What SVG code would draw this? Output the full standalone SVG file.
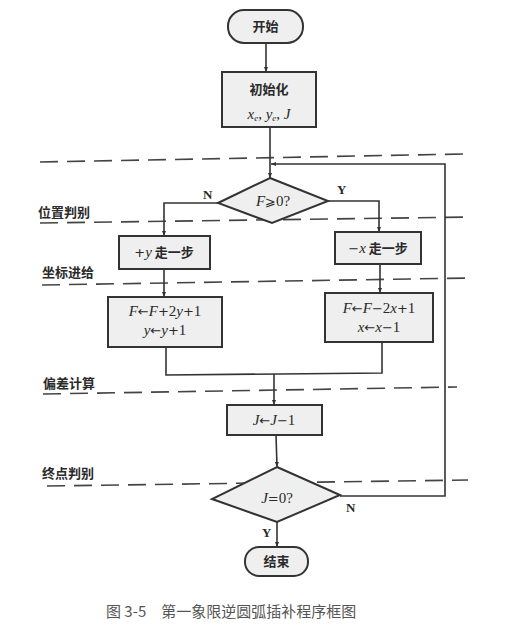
<svg xmlns="http://www.w3.org/2000/svg" width="512" height="632" viewBox="0 0 512 632">
<defs>
<style>
.box{fill:#efefef;stroke:#333;stroke-width:2}
.ln{fill:none;stroke:#333;stroke-width:1.6}
.dash{fill:none;stroke:#444;stroke-width:1.6;stroke-dasharray:18 9}
.cj{font-family:"Noto Sans CJK SC","Noto Sans",sans-serif;font-size:13px;font-weight:700;fill:#2a2a2a}
.mt{font-family:"Liberation Serif",serif;font-size:15px;font-style:italic;fill:#2a2a2a}
.op{font-family:"DejaVu Sans",sans-serif;font-style:normal;font-size:13px}
.yn{font-family:"Liberation Serif",serif;font-size:13px;font-weight:700;fill:#2a2a2a}
.cap{font-family:"Noto Sans CJK SC",sans-serif;font-size:15px;fill:#555}
</style>
<marker id="ar" viewBox="0 0 10 10" refX="10" refY="5" markerWidth="8" markerHeight="5" orient="auto" markerUnits="userSpaceOnUse">
<path d="M0,1 L10,5 L0,9 Z" fill="#333"/>
</marker>
</defs>
<rect width="512" height="632" fill="#fff"/>

<g id="phases">
<path class="dash" d="M40,162 L465,154"/>
<path class="dash" d="M40,223 L470,217"/>
<path class="dash" d="M42,285 L470,278"/>
<path class="dash" d="M43,394 L457,387"/>
<path class="dash" d="M47,486 L468,480"/>
<text class="cj" x="38" y="217">位置判别</text>
<text class="cj" x="42" y="277">坐标进给</text>
<text class="cj" x="43" y="388">偏差计算</text>
<text class="cj" x="42" y="478">终点判别</text>
</g>

<g id="connectors">
<path class="ln" d="M266,43 L266,72" marker-end="url(#ar)"/>
<path class="ln" d="M270,127 L270,178" marker-end="url(#ar)"/>
<path class="ln" d="M340,496 L445,496 L445,164 L271,164" marker-end="url(#ar)"/>
<path class="ln" d="M218,203 L164,203 L164,236" marker-end="url(#ar)"/>
<path class="ln" d="M328,201 L379,201 L379,232" marker-end="url(#ar)"/>
<path class="ln" d="M164,269 L164,297" marker-end="url(#ar)"/>
<path class="ln" d="M380,264 L380,293" marker-end="url(#ar)"/>
<path class="ln" d="M166,347 L166,375 L382,373 L382,342"/>
<path class="ln" d="M274,374 L274,405" marker-end="url(#ar)"/>
<path class="ln" d="M276,435 L277,467" marker-end="url(#ar)"/>
<path class="ln" d="M277,522 L277,547" marker-end="url(#ar)"/>
<text class="yn" x="203" y="199">N</text>
<text class="yn" x="337" y="194">Y</text>
<text class="yn" x="346" y="512">N</text>
<text class="yn" x="262" y="537">Y</text>
</g>

<g id="start">
<rect class="box" x="228" y="10" width="75" height="33" rx="16"/>
<text class="cj" x="265.500" y="31" text-anchor="middle">开始</text>
</g>

<g id="init">
<rect class="box" x="222" y="72" width="94" height="55"/>
<text class="cj" x="269" y="94" text-anchor="middle">初始化</text>
<text class="mt" x="269" y="119" text-anchor="middle" font-size="13">x<tspan font-size="9" dy="2">e</tspan><tspan dy="-2" font-style="normal">, </tspan>y<tspan font-size="9" dy="2">e</tspan><tspan dy="-2" font-style="normal">, </tspan>J</text>
</g>

<g id="d1">
<polygon class="box" points="270,178 328,201 272,223 218,203"/>
<text class="mt" x="273" y="206" text-anchor="middle">F<tspan class="op">⩾</tspan><tspan font-style="normal">0?</tspan></text>
</g>

<g id="stepY">
<rect class="box" x="119" y="236" width="91" height="33"/>
<text class="mt" x="164" y="257" text-anchor="middle"><tspan class="op">+</tspan>y<tspan class="cj" font-style="normal"> 走一步</tspan></text>
</g>

<g id="stepX">
<rect class="box" x="335" y="232" width="86" height="32"/>
<text class="mt" x="378" y="253" text-anchor="middle"><tspan class="op">−</tspan>x<tspan class="cj" font-style="normal"> 走一步</tspan></text>
</g>

<g id="calcY">
<rect class="box" x="108" y="297" width="114" height="50"/>
<text class="mt" x="165" y="316" text-anchor="middle">F<tspan class="op">←</tspan>F<tspan class="op">+</tspan><tspan font-style="normal">2</tspan>y<tspan class="op">+</tspan><tspan font-style="normal">1</tspan></text>
<text class="mt" x="165" y="335" text-anchor="middle">y<tspan class="op">←</tspan>y<tspan class="op">+</tspan><tspan font-style="normal">1</tspan></text>
</g>

<g id="calcX">
<rect class="box" x="325" y="293" width="108" height="49"/>
<text class="mt" x="379" y="313" text-anchor="middle">F<tspan class="op">←</tspan>F<tspan class="op">−</tspan><tspan font-style="normal">2</tspan>x<tspan class="op">+</tspan><tspan font-style="normal">1</tspan></text>
<text class="mt" x="379" y="332" text-anchor="middle">x<tspan class="op">←</tspan>x<tspan class="op">−</tspan><tspan font-style="normal">1</tspan></text>
</g>

<g id="decJ">
<rect class="box" x="227" y="405" width="95" height="30"/>
<text class="mt" x="274" y="425" text-anchor="middle">J<tspan class="op">←</tspan>J<tspan class="op">−</tspan><tspan font-style="normal">1</tspan></text>
</g>

<g id="d2">
<polygon class="box" points="277,467 340,495 277,522 212,499"/>
<text class="mt" x="277" y="503" text-anchor="middle">J<tspan class="op">=</tspan><tspan font-style="normal">0?</tspan></text>
</g>

<g id="end">
<rect class="box" x="245" y="547" width="63" height="29" rx="14"/>
<text class="cj" x="276.500" y="566" text-anchor="middle">结束</text>
</g>

<text class="cap" x="106" y="617">图 3-5　第一象限逆圆弧插补程序框图</text>
</svg>
